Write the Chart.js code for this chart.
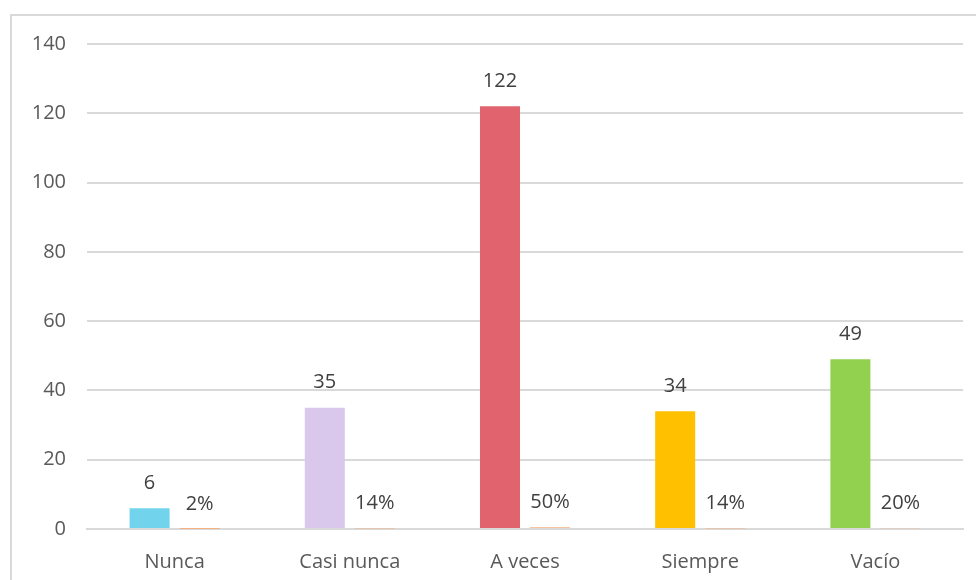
<!DOCTYPE html>
<html>
<head>
<meta charset="utf-8">
<script src="https://cdn.jsdelivr.net/npm/chart.js@4/dist/chart.umd.min.js"></script>
<style>
  html, body { margin: 0; padding: 0; background: #fff; }
  #wrap { position: relative; width: 976px; height: 580px; overflow: hidden; }
  #frame { position: absolute; left: 10px; top: 14px; width: 1000px; height: 600px;
           border-left: 2px solid #d9d9d9; border-top: 2px solid #d9d9d9; }
  #chart { position: absolute; left: 0; top: 0; }
</style>
</head>
<body>
<div id="wrap">
  <div id="frame"></div>
  <canvas id="chart" width="976" height="580"></canvas>
</div>
<script>
  // answers per option, and the share of the total
  var categories = ['Nunca', 'Casi nunca', 'A veces', 'Siempre', 'Vacío'];
  var counts = [6, 35, 122, 34, 49];
  var shares = [0.02, 0.14, 0.50, 0.14, 0.20];
  var barColors = ['#71d4ec', '#d9c8ec', '#e0636e', '#ffc000', '#92d050'];
  var shareColor = '#f4b183';
  var yTicks = [0, 20, 40, 60, 80, 100, 120, 140];

  var FONT = "'Open Sans', sans-serif";
  Chart.defaults.font.family = FONT;
  Chart.defaults.color = '#595959';

  // value labels above each bar
  var valueLabels = {
    id: 'valueLabels',
    afterDatasetsDraw: function(chart) {
      var ctx = chart.ctx;
      ctx.save();
      ctx.font = '20px ' + FONT;
      ctx.fillStyle = '#404040';
      ctx.textAlign = 'center';
      ctx.textBaseline = 'middle';
      chart.data.datasets.forEach(function(ds, i) {
        chart.getDatasetMeta(i).data.forEach(function(bar, j) {
          var v = ds.data[j];
          var txt = i === 0 ? String(v) : Math.round(v * 100) + '%';
          ctx.fillText(txt, bar.x, bar.y - 25);
        });
      });
      ctx.restore();
    }
  };

  new Chart(document.getElementById('chart').getContext('2d'), {
    type: 'bar',
    data: {
      labels: categories,
      datasets: [
        { label: 'Cantidad', data: counts, backgroundColor: barColors,
          categoryPercentage: 0.571, barPercentage: 0.8 },
        { label: 'Porcentaje', data: shares, backgroundColor: shareColor,
          categoryPercentage: 0.571, barPercentage: 0.8 }
      ]
    },
    options: {
      responsive: false,
      animation: false,
      layout: { padding: { left: 10, right: 13, top: 44, bottom: 0 } },
      plugins: { legend: { display: false }, tooltip: { enabled: false } },
      scales: {
        x: {
          z: 1, // axis line sits over the bar bases
          grid: { display: false },
          border: { color: '#d9d9d9', width: 2 },
          ticks: { color: '#595959', font: { size: 20 }, padding: 13 },
          afterFit: function(s) { s.height = 51; }
        },
        y: {
          min: 0, max: 140,
          afterBuildTicks: function(s) { s.ticks = yTicks.map(function(v) { return { value: v }; }); },
          grid: { color: '#d9d9d9', lineWidth: 2, drawTicks: false },
          border: { display: false },
          ticks: { color: '#595959', font: { size: 20 }, padding: 21 },
          afterFit: function(s) { s.width = 77; }
        }
      }
    },
    plugins: [valueLabels]
  });
</script>
</body>
</html>
